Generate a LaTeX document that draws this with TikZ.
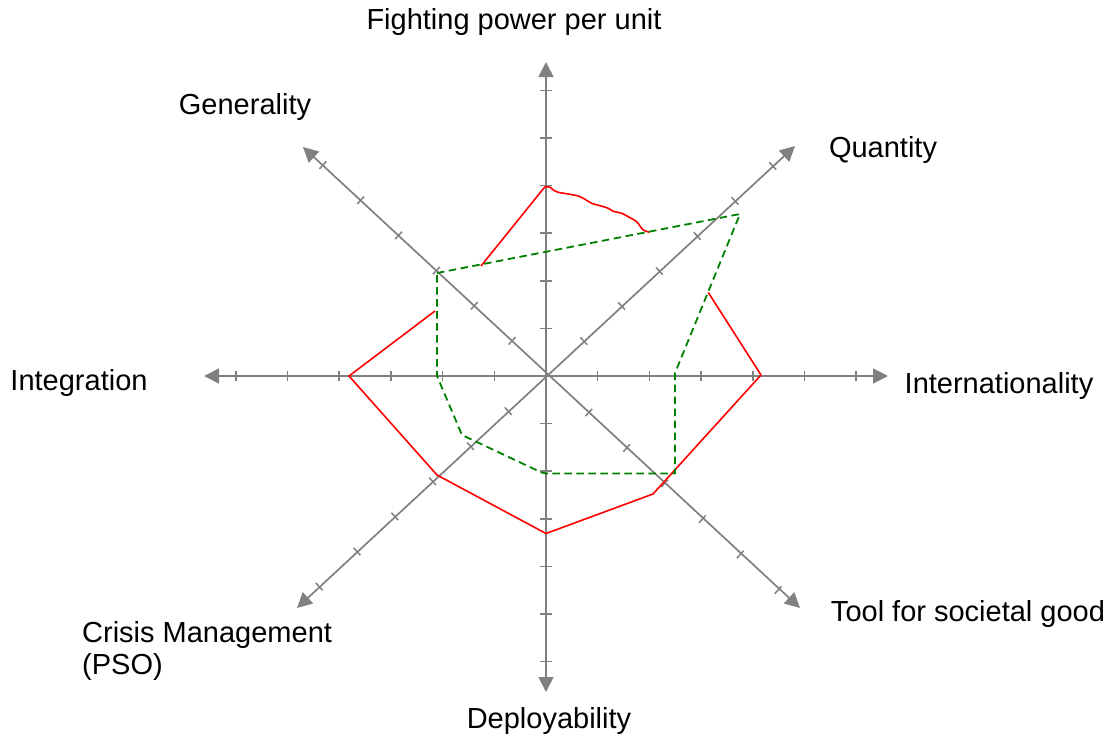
\documentclass[tikz,border=0pt]{standalone}
\usepackage{fontspec}
\setmainfont{Liberation Sans}
\usetikzlibrary{arrows.meta}
\definecolor{axgray}{HTML}{808080}
\definecolor{ggreen}{HTML}{008000}
\definecolor{rred}{HTML}{FF0000}
\begin{document}
\begin{tikzpicture}[x=1pt,y=-1pt,
  axisline/.style={draw=axgray, line width=1.8pt, -{Triangle[length=15pt,width=15pt]}},
  diagline/.style={draw=axgray, line width=1.7pt, {Triangle[length=15pt,width=15pt]}-{Triangle[length=15pt,width=15pt]}},
  tickmark/.style={draw=axgray, line width=1.5pt},
  lbl/.style={font=\fontsize{29}{34}\selectfont, inner sep=0pt},
  redline/.style={draw=rred, line width=1.6pt, line join=round},
  greenline/.style={draw=ggreen, line width=1.8pt, dash pattern=on 7.5pt off 4.5pt, line join=round}]
\useasboundingbox (0,0) rectangle (1112,736);

% centre and axis tips
\coordinate (C) at (546,376);
\coordinate (N) at (546,62);
\coordinate (S) at (546,692);
\coordinate (W) at (204,376);
\coordinate (E) at (888,376);
\coordinate (NE) at (795,146);
\coordinate (SW) at (297,608);
\coordinate (NW) at (303,147);
\coordinate (SE) at (800,608);

% axes
\draw[axisline] (C) -- (N);
\draw[axisline] (C) -- (S);
\draw[axisline] (C) -- (W);
\draw[axisline] (C) -- (E);
\draw[diagline] (SW) -- (NE);
\draw[diagline] (NW) -- (SE);

% ticks
\foreach \k in {1,...,6}{
  \draw[tickmark] ({540},{376-47.6*\k}) -- ({552},{376-47.6*\k});
  \draw[tickmark] ({540},{376+47.6*\k}) -- ({552},{376+47.6*\k});
  \draw[tickmark] ({546-51.7*\k},{371}) -- ({546-51.7*\k},{381});
  \draw[tickmark] ({546+51.7*\k},{371}) -- ({546+51.7*\k},{381});
  \draw[tickmark] ({546+37.8*\k-3.4},{376-35*\k-3.7}) -- ({546+37.8*\k+3.4},{376-35*\k+3.7});
  \draw[tickmark] ({546-37.8*\k-3.4},{376+35.1*\k-3.7}) -- ({546-37.8*\k+3.4},{376+35.1*\k+3.7});
  \draw[tickmark] ({550-37.85*\k+3.4},{376-35.15*\k-3.7}) -- ({550-37.85*\k-3.4},{376-35.15*\k+3.7});
  \draw[tickmark] ({551+37.85*\k+3.4},{377+35.5*\k-3.7}) -- ({551+37.85*\k-3.4},{377+35.5*\k+3.7});
}

% red series
\draw[redline] (481,266) -- (545,186.7);
\draw[redline] plot[smooth, tension=0.5] coordinates {(545,186.7) (550,187.3) (553.3,190) (558.3,192.3) (568.3,194) (578.3,196) (585,199.3) (591.7,203.3) (600,205.7) (608.3,208.3) (613.3,211.3) (621.7,213.3) (630,217.7) (636.7,221.7) (640,226) (643.3,230) (649.3,232.3)};
\draw[redline] (708.3,292.5) -- (761,375) -- (653,494) -- (546,533.5) -- (437,475) -- (349,376) -- (435,311);

% green series
\draw[greenline] (437,273) -- (740,214) -- (675,373) -- (675,473.5) -- (546,473.5) -- (541.5,472.5) -- (462,435) -- (440,383) -- (437,376) -- cycle;

% labels
\node[lbl, anchor=base] (fp) at (514,30) {Fighting power per unit};
\node[lbl, anchor=base] (gen) at (245,114) {Generality};
\node[lbl, anchor=base] (qty) at (883,157) {Quantity};
\node[lbl, anchor=base] (intg) at (79,390) {Integration};
\node[lbl, anchor=base] (intl) at (999,393) {Internationality};
\node[lbl, anchor=base] (tool) at (968,621) {Tool for societal good};
\node[lbl, anchor=base west] (crisis) at (82,642) {Crisis Management};
\node[lbl, anchor=base west] (pso) at (82,674) {(PSO)};
\node[lbl, anchor=base] (dep) at (549,728) {Deployability};
\end{tikzpicture}
\end{document}
